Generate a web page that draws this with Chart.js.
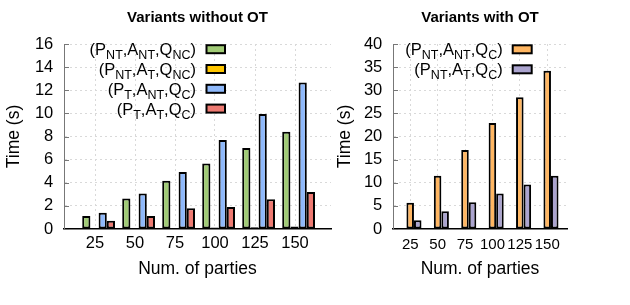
<!DOCTYPE html>
<html><head><meta charset="utf-8">
<script src="https://cdn.jsdelivr.net/npm/chart.js@4/dist/chart.umd.min.js"></script>
<style>
html,body{margin:0;padding:0;background:#fff;width:630px;height:305px;overflow:hidden}
#c1{position:absolute;left:0;top:0}
#c2{position:absolute;left:320px;top:0}
</style></head><body>
<canvas id="c1" width="340" height="305"></canvas>
<canvas id="c2" width="310" height="305"></canvas>
<script>
// ---- data ----
const parties = ['25', '50', '75', '100', '125', '150'];
// Variants without OT
const pNT_aNT_qNC = [1.13, 2.63, 4.17, 5.67, 7.0, 8.42];
const pNT_aT_qNC  = [0.05, 0.07, 0.09, 0.12, 0.15, 0.22];
const pT_aNT_qC   = [1.4, 3.07, 4.92, 7.7, 9.95, 12.67];
const pT_aT_qC    = [0.72, 1.13, 1.79, 1.91, 2.58, 3.21];
// Variants with OT
const pNT_aNT_qC  = [5.7, 11.5, 17.1, 22.9, 28.5, 34.2];
const pNT_aT_qC   = [1.88, 3.83, 5.78, 7.66, 9.6, 11.5];
const leftYMax = 16, leftYStep = 2;
const rightYMax = 40, rightYStep = 5;

const FONT = "'Liberation Sans', Arial, Helvetica, sans-serif";
Chart.defaults.font.family = FONT;
Chart.defaults.color = '#000';

// label with subscripts: "(P_{NT},A_{NT},Q_{NC})"
function parseSub(s) {
  const segs = []; const re = /_\{([^}]*)\}/g; let last = 0, m;
  while ((m = re.exec(s))) {
    if (m.index > last) segs.push({t: s.slice(last, m.index), sub: false});
    segs.push({t: m[1], sub: true}); last = re.lastIndex;
  }
  if (last < s.length) segs.push({t: s.slice(last), sub: false});
  return segs;
}

const decoPlugin = {
  id: 'deco',
  afterDraw(chart, args, opts) {
    const ctx = chart.ctx, ca = chart.chartArea;
    ctx.save();
    // inward y tick marks
    const ys = chart.scales.y;
    ctx.strokeStyle = '#777'; ctx.lineWidth = 1;
    ys.ticks.forEach(t => {
      const py = Math.round(ys.getPixelForValue(t.value)) + 0.5;
      ctx.beginPath(); ctx.moveTo(ca.left, py); ctx.lineTo(ca.left + 5, py); ctx.stroke();
    });
    // title
    ctx.fillStyle = '#000';
    ctx.font = 'bold ' + opts.titleSize + 'px ' + FONT;
    ctx.textAlign = 'center'; ctx.textBaseline = 'alphabetic';
    ctx.fillText(opts.title, (ca.left + ca.right) / 2, opts.titleY);
    // legend
    const L = opts.legend;
    chart.data.datasets.forEach((ds, i) => {
      const cy = L.top + i * L.rowH;
      const segs = parseSub(ds.label);
      let w = 0;
      segs.forEach(s => { ctx.font = (s.sub ? L.subSize : L.size) + 'px ' + FONT; s.w = ctx.measureText(s.t).width; w += s.w; });
      let x = L.textRight - w;
      ctx.textAlign = 'left';
      segs.forEach(s => {
        ctx.font = (s.sub ? L.subSize : L.size) + 'px ' + FONT;
        ctx.fillText(s.t, x, cy + L.baseOff + (s.sub ? L.subOff : 0));
        x += s.w;
      });
      ctx.fillStyle = ds.backgroundColor;
      ctx.fillRect(L.boxLeft, cy - L.boxH / 2, L.boxW, L.boxH);
      ctx.strokeStyle = '#000'; ctx.lineWidth = 2;
      ctx.strokeRect(L.boxLeft, cy - L.boxH / 2, L.boxW, L.boxH);
      ctx.fillStyle = '#000';
    });
    ctx.restore();
  }
};

function makeChart(id, cfg) {
  const datasets = cfg.series.map(s => ({
    label: s.label,
    data: s.values.map((v, i) => ({x: i + cfg.barShift, y: v})),
    backgroundColor: s.color,
    borderColor: '#000',
    borderWidth: 2,
    borderSkipped: false,
    categoryPercentage: cfg.catPct,
    barPercentage: 1
  }));
  return new Chart(document.getElementById(id), {
    type: 'bar',
    data: {datasets},
    plugins: [decoPlugin],
    options: {
      responsive: false, animation: false,
      layout: {padding: {left: 0, right: cfg.padRight, top: 44, bottom: 0}},
      plugins: {
        legend: {display: false}, tooltip: {enabled: false},
        deco: {title: cfg.title, titleSize: 15, titleY: 21.5, legend: cfg.legend}
      },
      scales: {
        x: {
          type: 'linear', min: cfg.xMin, max: cfg.xMax, offset: false,
          afterFit: s => { s.height = 76; },
          grid: {offset: false, drawTicks: false, color: '#d9d9d9', lineWidth: 1},
          border: {display: true, color: '#000', width: 1.5, dash: [2, 3]},
          ticks: {stepSize: 1, includeBounds: false, autoSkip: false, maxRotation: 0,
                  padding: cfg.xTickPad, font: {size: cfg.xTickSize}, color: '#000',
                  callback: v => Number.isInteger(v) ? parties[v] : ''},
          title: {display: true, text: 'Num. of parties', font: {size: 17.5}, color: '#000',
                  padding: {top: 0, bottom: 25}}
        },
        y: {
          min: 0, max: cfg.yMax,
          afterFit: s => { s.width = cfg.yWidth; },
          grid: {drawTicks: false, lineWidth: 1,
                 color: c => (c.tick && c.tick.value === 0) ? 'rgba(0,0,0,0)' : '#d9d9d9'},
          border: {display: true, color: '#777', width: 1, dash: [2, 3]},
          ticks: {stepSize: cfg.yStep, padding: 10.7, font: {size: 16.5}, color: '#000'},
          title: {display: true, text: 'Time (s)', font: {size: 17.5}, color: '#000',
                  padding: {top: cfg.yTitlePad, bottom: 0}}
        }
      }
    }
  });
}

makeChart('c1', {
  title: 'Variants without OT',
  series: [
    {label: '(P_{NT},A_{NT},Q_{NC})', values: pNT_aNT_qNC, color: '#a1cb76'},
    {label: '(P_{NT},A_{T},Q_{NC})', values: pNT_aT_qNC, color: '#ffc600'},
    {label: '(P_{T},A_{NT},Q_{C})', values: pT_aNT_qC, color: '#8fb9fb'},
    {label: '(P_{T},A_{T},Q_{C})', values: pT_aT_qC, color: '#ee7a72'}
  ],
  barShift: 0.09, catPct: 0.82,
  xMin: -0.775, xMax: 5.9, padRight: 9,
  xTickPad: 5, xTickSize: 16.5,
  yMax: leftYMax, yStep: leftYStep, yWidth: 64, yTitlePad: 3.5,
  legend: {top: 49.2, rowH: 19.8, textRight: 196, boxLeft: 206.5, boxW: 18.5, boxH: 8,
           size: 16.5, subSize: 12.5, baseOff: 5.9, subOff: 4}
});

makeChart('c2', {
  title: 'Variants with OT',
  series: [
    {label: '(P_{NT},A_{NT},Q_{C})', values: pNT_aNT_qC, color: '#ffb662'},
    {label: '(P_{NT},A_{T},Q_{C})', values: pNT_aT_qC, color: '#aba4cf'}
  ],
  barShift: 0.135, catPct: 0.55,
  xMin: -0.63, xMax: 5.72, padRight: 63,
  xTickPad: 6.5, xTickSize: 15,
  yMax: rightYMax, yStep: rightYStep, yWidth: 73, yTitlePad: 15,
  legend: {top: 49.3, rowH: 20, textRight: 182.7, boxLeft: 192.7, boxW: 19, boxH: 8,
           size: 16.5, subSize: 12.5, baseOff: 5.9, subOff: 4}
});
</script>
</body></html>
